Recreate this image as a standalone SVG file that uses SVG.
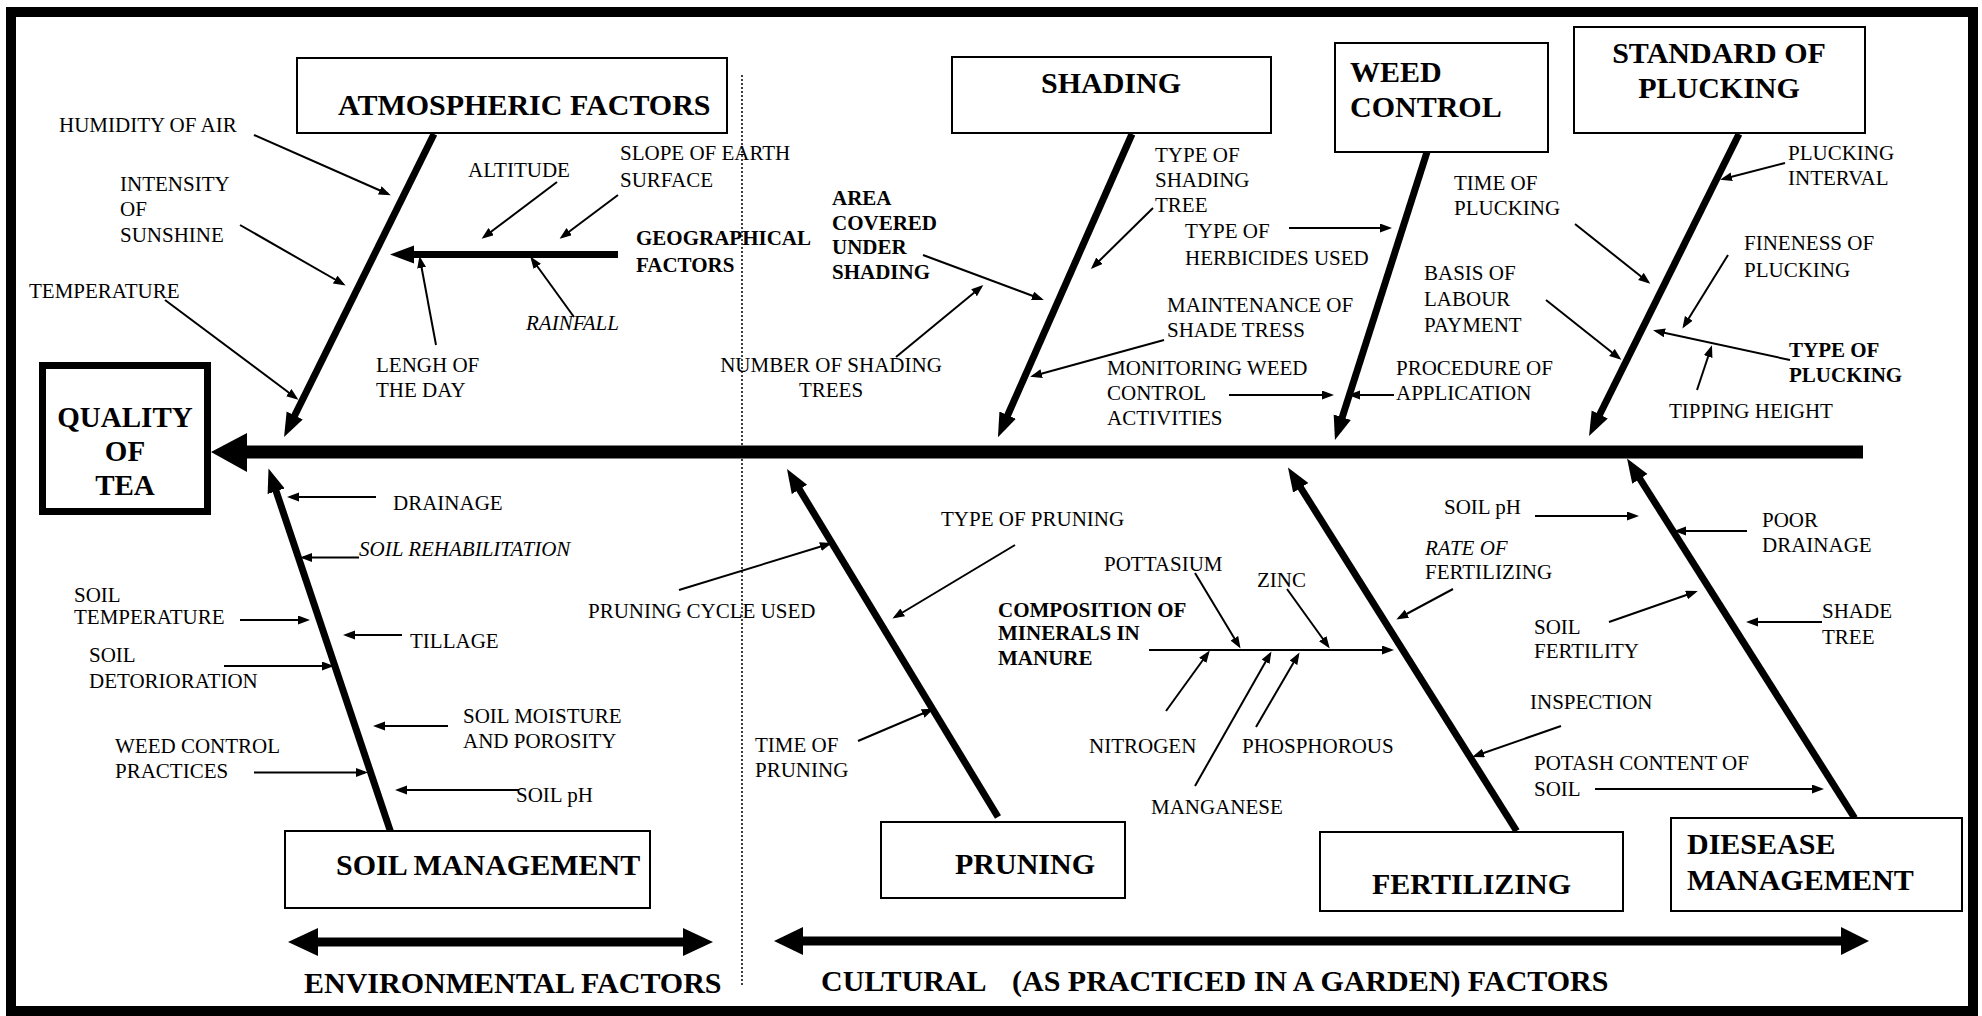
<svg xmlns="http://www.w3.org/2000/svg" width="1982" height="1016" viewBox="0 0 1982 1016" font-family="'Liberation Serif', 'DejaVu Serif', serif">
  <style>
    text { font-family: "Liberation Serif", "DejaVu Serif", serif; fill: #000; }
    .lbl { font-size: 21px; }
    .b { font-weight: bold; }
    .i { font-style: italic; }
    .title { font-size: 30px; font-weight: bold; }
    .box { fill: #fff; stroke: #000; stroke-width: 2; }
    .thin { stroke: #000; stroke-width: 2; fill: none; marker-end: url(#ah); }
    .bone { stroke: #000; stroke-width: 7; fill: none; marker-end: url(#bh); }
  </style>
  <defs>
    <marker id="ah" markerUnits="userSpaceOnUse" markerWidth="13" markerHeight="10" refX="9" refY="4.5" orient="auto">
      <path d="M0,0 L12,4.5 L0,9 z" fill="#000"/>
    </marker>
    <marker id="bh" markerUnits="userSpaceOnUse" markerWidth="26" markerHeight="20" refX="14" refY="9" orient="auto">
      <path d="M0,0 L24,9 L0,18 z" fill="#000"/>
    </marker>
  </defs>

  <rect width="1982" height="1016" fill="#fff"/>
  <!-- outer frame -->
  <rect x="11" y="12" width="1962" height="999" fill="none" stroke="#000" stroke-width="10"/>
  <!-- divider between environmental and cultural factors -->
  <line x1="742" y1="75" x2="742" y2="987" stroke="#000" stroke-width="1.5" stroke-dasharray="2 2"/>

  <!-- connectors: spine, bones and cause arrows -->
  <g id="connectors">
    <line x1="245" y1="452" x2="1863" y2="452" stroke="#000" stroke-width="13"/>
    <polygon points="211,452 247,433 247,472" fill="#000"/>

    <line class="bone" x1="434" y1="134" x2="288.5" y2="428"/>
    <line class="bone" x1="1132" y1="134" x2="1002" y2="428"/>
    <line class="bone" x1="1427" y1="152" x2="1338" y2="430.5"/>
    <line class="bone" x1="1739" y1="134" x2="1593.5" y2="427"/>
    <line class="bone" x1="394" y1="842" x2="271.7" y2="478"/>
    <line class="bone" x1="998" y1="817" x2="792.2" y2="477.5"/>
    <line class="bone" x1="1516.6" y1="831" x2="1293.3" y2="476"/>
    <line class="bone" x1="1854.6" y1="818" x2="1632.4" y2="467"/>
    <line class="bone" x1="618" y1="254.5" x2="400" y2="254.5"/>

    <!-- atmospheric -->
    <line class="thin" x1="254" y1="135" x2="388" y2="194"/>
    <line class="thin" x1="240" y1="225" x2="343" y2="284"/>
    <line class="thin" x1="165" y1="300" x2="296" y2="398"/>
    <line class="thin" x1="557" y1="182" x2="484" y2="237"/>
    <line class="thin" x1="618" y1="195" x2="562" y2="237"/>
    <line class="thin" x1="574" y1="317" x2="532" y2="259"/>
    <line class="thin" x1="436" y1="345" x2="420" y2="259"/>
    <!-- shading -->
    <line class="thin" x1="923" y1="255" x2="1041" y2="299"/>
    <line class="thin" x1="896" y1="357" x2="981" y2="287"/>
    <line class="thin" x1="1153" y1="208" x2="1093" y2="267"/>
    <line class="thin" x1="1164" y1="340" x2="1033" y2="376"/>
    <!-- weed control -->
    <line class="thin" x1="1289" y1="228" x2="1389" y2="228"/>
    <line class="thin" x1="1229" y1="395" x2="1331" y2="395"/>
    <line class="thin" x1="1394" y1="395" x2="1351" y2="395"/>
    <!-- plucking -->
    <line class="thin" x1="1575" y1="224" x2="1648" y2="282"/>
    <line class="thin" x1="1546" y1="300" x2="1619" y2="358"/>
    <line class="thin" x1="1785" y1="163" x2="1723" y2="179"/>
    <line class="thin" x1="1728" y1="255" x2="1684" y2="326"/>
    <line class="thin" x1="1790" y1="360" x2="1656" y2="331"/>
    <line class="thin" x1="1697" y1="390" x2="1711" y2="348"/>
    <!-- soil management -->
    <line class="thin" x1="376" y1="497" x2="290" y2="497"/>
    <line class="thin" x1="359" y1="557.5" x2="303" y2="557.5"/>
    <line class="thin" x1="240" y1="620" x2="307" y2="620"/>
    <line class="thin" x1="402" y1="635" x2="346" y2="635"/>
    <line class="thin" x1="224" y1="666" x2="331" y2="666"/>
    <line class="thin" x1="448" y1="726" x2="376" y2="726"/>
    <line class="thin" x1="254" y1="772.5" x2="365" y2="772.5"/>
    <line class="thin" x1="519" y1="790" x2="398" y2="790"/>
    <!-- pruning -->
    <line class="thin" x1="679" y1="590" x2="829" y2="544"/>
    <line class="thin" x1="1015" y1="545" x2="895" y2="617"/>
    <line class="thin" x1="858" y1="741" x2="931" y2="710"/>
    <!-- fertilizing -->
    <line class="thin" x1="1149" y1="650" x2="1391" y2="650"/>
    <line class="thin" x1="1195" y1="573" x2="1239" y2="646"/>
    <line class="thin" x1="1287" y1="589" x2="1328" y2="646"/>
    <line class="thin" x1="1166" y1="711" x2="1208" y2="653"/>
    <line class="thin" x1="1195" y1="786" x2="1270" y2="654"/>
    <line class="thin" x1="1256" y1="727" x2="1298" y2="655"/>
    <line class="thin" x1="1453" y1="589" x2="1399" y2="618"/>
    <line class="thin" x1="1561" y1="726" x2="1475" y2="756"/>
    <!-- disease management -->
    <line class="thin" x1="1535" y1="516" x2="1636" y2="516"/>
    <line class="thin" x1="1747" y1="531" x2="1677" y2="531"/>
    <line class="thin" x1="1609" y1="622" x2="1695" y2="592"/>
    <line class="thin" x1="1822" y1="622" x2="1749" y2="622"/>
    <line class="thin" x1="1595" y1="789" x2="1821" y2="789"/>

    <!-- factor group arrows -->
    <g id="environmental-arrow">
      <rect x="316" y="937.5" width="369" height="9"/>
      <polygon points="288,942 318,928 318,956"/>
      <polygon points="713,942 683,928 683,956"/>
    </g>
    <g id="cultural-arrow">
      <rect x="801" y="936.5" width="1042" height="9"/>
      <polygon points="774,941 803,927 803,955"/>
      <polygon points="1869,941 1841,927 1841,955"/>
    </g>
  </g>

  <!-- effect -->
  <g id="quality-of-tea">
    <rect x="42.5" y="365.5" width="165" height="146" fill="#fff" stroke="#000" stroke-width="7"/>
    <text x="125" y="427" font-size="29" font-weight="bold" text-anchor="middle">QUALITY</text>
    <text x="125" y="461" font-size="29" font-weight="bold" text-anchor="middle">OF</text>
    <text x="125" y="495" font-size="29" font-weight="bold" text-anchor="middle">TEA</text>
  </g>

  <!-- category boxes -->
  <g id="atmospheric-factors">
    <rect class="box" x="297" y="58" width="430" height="75"/>
    <text class="title" x="338" y="115">ATMOSPHERIC FACTORS</text>
  </g>
  <g id="shading">
    <rect class="box" x="952" y="57" width="319" height="76"/>
    <text class="title" x="1041" y="93">SHADING</text>
  </g>
  <g id="weed-control">
    <rect class="box" x="1335" y="43" width="213" height="109"/>
    <text class="title" x="1350" y="82">WEED</text>
    <text class="title" x="1350" y="117">CONTROL</text>
  </g>
  <g id="standard-of-plucking">
    <rect class="box" x="1574" y="27" width="291" height="106"/>
    <text class="title" x="1719" y="63" text-anchor="middle">STANDARD OF</text>
    <text class="title" x="1719" y="98" text-anchor="middle">PLUCKING</text>
  </g>
  <g id="soil-management">
    <rect class="box" x="285" y="831" width="365" height="77"/>
    <text class="title" x="336" y="875">SOIL MANAGEMENT</text>
  </g>
  <g id="pruning">
    <rect class="box" x="881" y="822" width="244" height="76"/>
    <text class="title" x="955" y="874">PRUNING</text>
  </g>
  <g id="fertilizing">
    <rect class="box" x="1320" y="832" width="303" height="79"/>
    <text class="title" x="1372" y="894">FERTILIZING</text>
  </g>
  <g id="disease-management">
    <rect class="box" x="1671" y="818" width="291" height="93"/>
    <text class="title" x="1687" y="854">DIESEASE</text>
    <text class="title" x="1687" y="890">MANAGEMENT</text>
  </g>

  <!-- cause labels -->
  <g id="atmospheric-causes">
    <text class="lbl" x="59" y="132">HUMIDITY OF AIR</text>
    <text class="lbl" x="120" y="191">INTENSITY</text>
    <text class="lbl" x="120" y="216">OF</text>
    <text class="lbl" x="120" y="242">SUNSHINE</text>
    <text class="lbl" x="29" y="298">TEMPERATURE</text>
    <text class="lbl" x="468" y="177">ALTITUDE</text>
    <text class="lbl" x="620" y="160">SLOPE OF EARTH</text>
    <text class="lbl" x="620" y="187">SURFACE</text>
    <text class="lbl b" x="636" y="245">GEOGRAPHICAL</text>
    <text class="lbl b" x="636" y="272">FACTORS</text>
    <text class="lbl i" x="526" y="330">RAINFALL</text>
    <text class="lbl" x="376" y="372">LENGH OF</text>
    <text class="lbl" x="376" y="397">THE DAY</text>
  </g>
  <g id="shading-causes">
    <text class="lbl b" x="832" y="205">AREA</text>
    <text class="lbl b" x="832" y="230">COVERED</text>
    <text class="lbl b" x="832" y="254">UNDER</text>
    <text class="lbl b" x="832" y="279">SHADING</text>
    <text class="lbl" x="831" y="372" text-anchor="middle">NUMBER OF SHADING</text>
    <text class="lbl" x="831" y="397" text-anchor="middle">TREES</text>
    <text class="lbl" x="1155" y="162">TYPE OF</text>
    <text class="lbl" x="1155" y="187">SHADING</text>
    <text class="lbl" x="1155" y="212">TREE</text>
    <text class="lbl" x="1167" y="312">MAINTENANCE OF</text>
    <text class="lbl" x="1167" y="337">SHADE TRESS</text>
  </g>
  <g id="weed-control-causes">
    <text class="lbl" x="1185" y="238">TYPE OF</text>
    <text class="lbl" x="1185" y="265">HERBICIDES USED</text>
    <text class="lbl" x="1107" y="375">MONITORING WEED</text>
    <text class="lbl" x="1107" y="400">CONTROL</text>
    <text class="lbl" x="1107" y="425">ACTIVITIES</text>
    <text class="lbl" x="1396" y="375">PROCEDURE OF</text>
    <text class="lbl" x="1396" y="400">APPLICATION</text>
  </g>
  <g id="plucking-causes">
    <text class="lbl" x="1454" y="190">TIME OF</text>
    <text class="lbl" x="1454" y="215">PLUCKING</text>
    <text class="lbl" x="1424" y="280">BASIS OF</text>
    <text class="lbl" x="1424" y="306">LABOUR</text>
    <text class="lbl" x="1424" y="332">PAYMENT</text>
    <text class="lbl" x="1788" y="160">PLUCKING</text>
    <text class="lbl" x="1788" y="185">INTERVAL</text>
    <text class="lbl" x="1744" y="250">FINENESS OF</text>
    <text class="lbl" x="1744" y="277">PLUCKING</text>
    <text class="lbl b" x="1789" y="357">TYPE OF</text>
    <text class="lbl b" x="1789" y="382">PLUCKING</text>
    <text class="lbl" x="1669" y="418">TIPPING HEIGHT</text>
  </g>
  <g id="soil-causes">
    <text class="lbl" x="393" y="510">DRAINAGE</text>
    <text class="lbl i" x="359" y="556">SOIL REHABILITATION</text>
    <text class="lbl" x="74" y="602">SOIL</text>
    <text class="lbl" x="74" y="624">TEMPERATURE</text>
    <text class="lbl" x="410" y="648">TILLAGE</text>
    <text class="lbl" x="89" y="662">SOIL</text>
    <text class="lbl" x="89" y="688">DETORIORATION</text>
    <text class="lbl" x="463" y="723">SOIL MOISTURE</text>
    <text class="lbl" x="463" y="748">AND POROSITY</text>
    <text class="lbl" x="115" y="753">WEED CONTROL</text>
    <text class="lbl" x="115" y="778">PRACTICES</text>
    <text class="lbl" x="516" y="802">SOIL pH</text>
  </g>
  <g id="pruning-causes">
    <text class="lbl" x="588" y="618">PRUNING CYCLE USED</text>
    <text class="lbl" x="941" y="526">TYPE OF PRUNING</text>
    <text class="lbl" x="755" y="752">TIME OF</text>
    <text class="lbl" x="755" y="777">PRUNING</text>
  </g>
  <g id="fertilizing-causes">
    <text class="lbl b" x="998" y="617">COMPOSITION OF</text>
    <text class="lbl b" x="998" y="640">MINERALS IN</text>
    <text class="lbl b" x="998" y="665">MANURE</text>
    <text class="lbl" x="1104" y="571">POTTASIUM</text>
    <text class="lbl" x="1257" y="587">ZINC</text>
    <text class="lbl" x="1089" y="753">NITROGEN</text>
    <text class="lbl" x="1242" y="753">PHOSPHOROUS</text>
    <text class="lbl" x="1151" y="814">MANGANESE</text>
    <text class="lbl i" x="1425" y="555">RATE OF</text>
    <text class="lbl" x="1425" y="579">FERTILIZING</text>
    <text class="lbl" x="1530" y="709">INSPECTION</text>
  </g>
  <g id="disease-causes">
    <text class="lbl" x="1444" y="514">SOIL pH</text>
    <text class="lbl" x="1762" y="527">POOR</text>
    <text class="lbl" x="1762" y="552">DRAINAGE</text>
    <text class="lbl" x="1534" y="634">SOIL</text>
    <text class="lbl" x="1534" y="658">FERTILITY</text>
    <text class="lbl" x="1822" y="618">SHADE</text>
    <text class="lbl" x="1822" y="644">TREE</text>
    <text class="lbl" x="1534" y="770">POTASH CONTENT OF</text>
    <text class="lbl" x="1534" y="796">SOIL</text>
  </g>

  <!-- factor group captions -->
  <g id="captions">
    <text class="title" x="304" y="993">ENVIRONMENTAL FACTORS</text>
    <text class="title" y="991"><tspan x="821">CULTURAL</tspan><tspan x="1012">(AS PRACTICED IN A GARDEN) FACTORS</tspan></text>
  </g>
</svg>
